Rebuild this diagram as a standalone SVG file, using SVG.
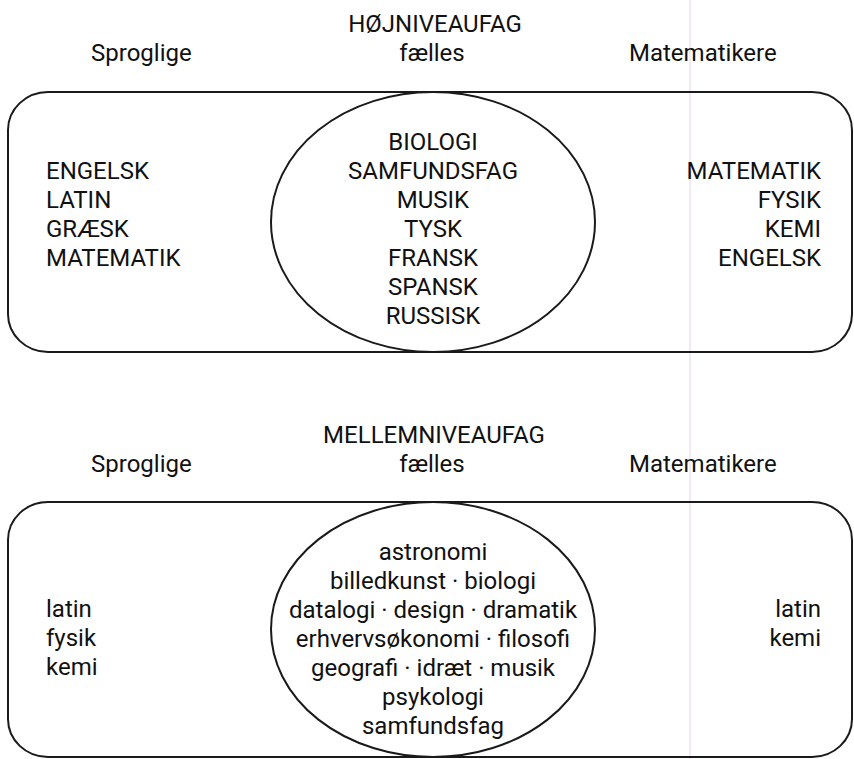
<svg xmlns="http://www.w3.org/2000/svg" width="854" height="759" viewBox="0 0 854 759">
<style>
text{font-family:Roboto,"Open Sans",sans-serif;font-size:24px;fill:#111}
.c{text-anchor:middle}
.r{text-anchor:end}
.shape{fill:none;stroke:#1a1a1a;stroke-width:2}
</style>
<rect width="854" height="759" fill="#fff"/>
<line x1="690" y1="0" x2="690" y2="759" stroke="#e0d6ea" stroke-width="1"/>
<g id="top-headings">
<text class="c" x="435" y="32">HØJNIVEAUFAG</text>
<text x="91" y="61">Sproglige</text>
<text class="c" x="432" y="61">fælles</text>
<text x="629" y="61">Matematikere</text>
</g>
<g id="top-box">
<rect class="shape" x="8" y="92" width="844" height="260" rx="40" ry="38"/>
</g>
<g id="top-ellipse">
<ellipse class="shape" cx="433" cy="222" rx="162" ry="130"/>
</g>
<g id="top-left">
<text x="46" y="179">ENGELSK</text>
<text x="46" y="208">LATIN</text>
<text x="46" y="237">GRÆSK</text>
<text x="46" y="266">MATEMATIK</text>
</g>
<g id="top-center">
<text class="c" x="433" y="150">BIOLOGI</text>
<text class="c" x="433" y="179">SAMFUNDSFAG</text>
<text class="c" x="433" y="208">MUSIK</text>
<text class="c" x="433" y="237">TYSK</text>
<text class="c" x="433" y="266">FRANSK</text>
<text class="c" x="433" y="295">SPANSK</text>
<text class="c" x="433" y="324">RUSSISK</text>
</g>
<g id="top-right">
<text class="r" x="821" y="179">MATEMATIK</text>
<text class="r" x="821" y="208">FYSIK</text>
<text class="r" x="821" y="237">KEMI</text>
<text class="r" x="821" y="266">ENGELSK</text>
</g>
<g id="bottom-headings">
<text class="c" x="434" y="443">MELLEMNIVEAUFAG</text>
<text x="91" y="472">Sproglige</text>
<text class="c" x="432" y="472">fælles</text>
<text x="629" y="472">Matematikere</text>
</g>
<g id="bottom-box">
<rect class="shape" x="8" y="502" width="844" height="255" rx="40" ry="38"/>
</g>
<g id="bottom-ellipse">
<ellipse class="shape" cx="433" cy="629.5" rx="162" ry="127.5"/>
</g>
<g id="bottom-left">
<text x="46" y="617">latin</text>
<text x="46" y="646">fysik</text>
<text x="46" y="675">kemi</text>
</g>
<g id="bottom-center">
<text class="c" x="433" y="560">astronomi</text>
<text class="c" x="433" y="589">billedkunst · biologi</text>
<text class="c" x="433" y="618">datalogi · design · dramatik</text>
<text class="c" x="433" y="647">erhvervsøkonomi · filosofi</text>
<text class="c" x="433" y="676">geografi · idræt · musik</text>
<text class="c" x="433" y="705">psykologi</text>
<text class="c" x="433" y="734">samfundsfag</text>
</g>
<g id="bottom-right">
<text class="r" x="821" y="617">latin</text>
<text class="r" x="821" y="646">kemi</text>
</g>
<g id="connectors"></g>
</svg>
